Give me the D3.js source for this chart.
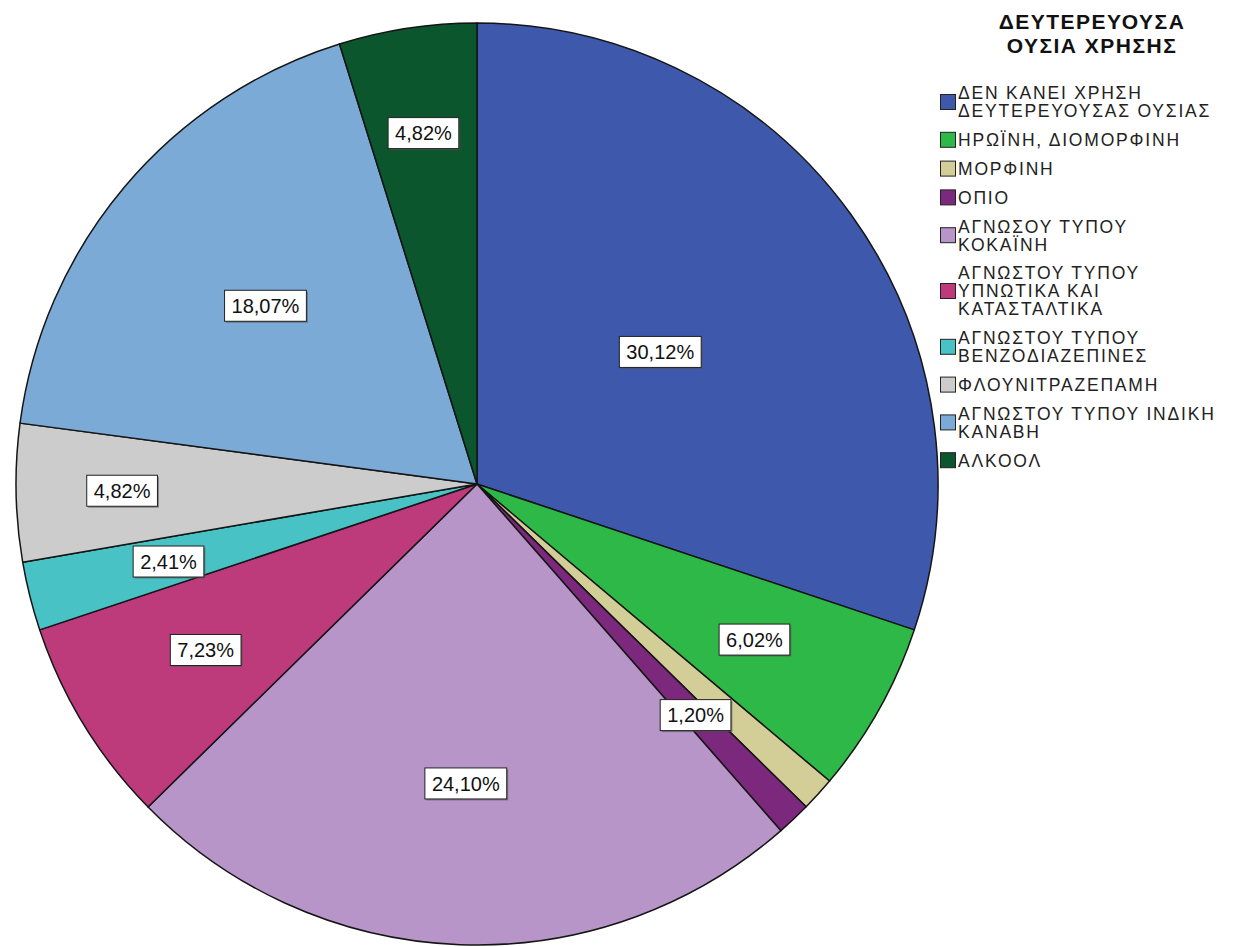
<!DOCTYPE html>
<html>
<head>
<meta charset="utf-8">
<script src="https://cdn.jsdelivr.net/npm/d3@7"></script>
<style>
  html, body { margin: 0; padding: 0; background: #fff; }
  svg { display: block; }
</style>
</head>
<body>
<svg id="chart" width="1239" height="947"></svg>
<script>
// ---- data ----
const categories = [
  ["ΔΕΝ ΚΑΝΕΙ ΧΡΗΣΗ", "ΔΕΥΤΕΡΕΥΟΥΣΑΣ ΟΥΣΙΑΣ"],
  ["ΗΡΩΪΝΗ, ΔΙΟΜΟΡΦΙΝΗ"],
  ["ΜΟΡΦΙΝΗ"],
  ["ΟΠΙΟ"],
  ["ΑΓΝΩΣΟΥ ΤΥΠΟΥ", "ΚΟΚΑΪΝΗ"],
  ["ΑΓΝΩΣΤΟΥ ΤΥΠΟΥ", "ΥΠΝΩΤΙΚΑ ΚΑΙ", "ΚΑΤΑΣΤΑΛΤΙΚΑ"],
  ["ΑΓΝΩΣΤΟΥ ΤΥΠΟΥ", "ΒΕΝΖΟΔΙΑΖΕΠΙΝΕΣ"],
  ["ΦΛΟΥΝΙΤΡΑΖΕΠΑΜΗ"],
  ["ΑΓΝΩΣΤΟΥ ΤΥΠΟΥ ΙΝΔΙΚΗ", "ΚΑΝΑΒΗ"],
  ["ΑΛΚΟΟΛ"]
];
const percents = [30.12, 6.02, 1.20, 1.20, 24.10, 7.23, 2.41, 4.82, 18.07, 4.82];
const colors = ["#3E58AC", "#2EB848", "#D3CE97", "#7C287D", "#B795C8",
                "#BD3B7B", "#48C2C5", "#CCCCCC", "#7AAAD5", "#0B562D"];
const legendTitle = ["ΔΕΥΤΕΡΕΥΟΥΣΑ", "ΟΥΣΙΑ ΧΡΗΣΗΣ"];

// ---- layout ----
const svg = d3.select("#chart");
const cx = 477, cy = 484, R = 461;
const font = "'Liberation Sans', Arial, sans-serif";

const data = percents.map((v, i) => ({ v, i }));
const pie = d3.pie().value(d => d.v).sort(null);
const arcs = pie(data);
const arc = d3.arc().innerRadius(0).outerRadius(R);

const g = svg.append("g").attr("transform", `translate(${cx},${cy})`);
g.selectAll("path.slice").data(arcs).join("path")
  .attr("class", "slice")
  .attr("d", arc)
  .attr("fill", d => colors[d.data.i])
  .attr("stroke", "#151515")
  .attr("stroke-width", 1.5)
  .attr("stroke-linejoin", "round");

// label radius rule (fraction of radius) depending on slice size
function labelFrac(v) {
  if (v > 25) return 0.49;
  if (v > 20) return 0.65;
  if (v > 15) return 0.60;
  if (v > 4 && v < 5) return 0.77;
  return 0.69;
}
const fmt = v => v.toFixed(2).replace(".", ",") + "%";

const labelsG = g.append("g");
const placed = [];
arcs.forEach(a => {
  const mid = (a.startAngle + a.endAngle) / 2;
  const r = R * labelFrac(a.data.v);
  const x = Math.sin(mid) * r, y = -Math.cos(mid) * r;
  const lg = labelsG.append("g").attr("transform", `translate(${x},${y})`);
  const t = lg.append("text")
    .attr("text-anchor", "middle").attr("dy", "0.36em")
    .attr("font-family", font).attr("font-size", 20).attr("fill", "#111")
    .text(fmt(a.data.v));
  const w = t.node().getComputedTextLength() + 14, h = 31;
  lg.insert("rect", "text").attr("x", -w / 2 + 1.5).attr("y", -h / 2 + 1.5)
    .attr("width", w).attr("height", h).attr("fill", "#555").attr("opacity", 0.6);
  lg.insert("rect", "text").attr("x", -w / 2).attr("y", -h / 2)
    .attr("width", w).attr("height", h).attr("fill", "#fff")
    .attr("stroke", "#222").attr("stroke-width", 1);
  const box = { x0: x - w / 2, x1: x + w / 2, y0: y - h / 2, y1: y + h / 2, node: lg };
  placed.forEach(p => {
    if (!p.hidden && p.x0 < box.x1 && box.x0 < p.x1 && p.y0 < box.y1 && box.y0 < p.y1) {
      p.hidden = true; p.node.remove();
    }
  });
  placed.push(box);
});

// ---- legend ----
const lx = 940, textX = 958;
const leg = svg.append("g");
leg.selectAll("text.title").data(legendTitle).join("text")
  .attr("class", "title")
  .attr("x", 1092).attr("y", (d, i) => 29 + i * 24)
  .attr("text-anchor", "middle")
  .attr("font-family", font).attr("font-weight", "bold").attr("font-size", 21)
  .attr("letter-spacing", 1.5)
  .attr("fill", "#111").text(d => d);

const lineH = 18, gap = 10.8;
let yTop = 84;
categories.forEach((lines, i) => {
  const hItem = lines.length * lineH;
  const midY = yTop + hItem / 2;
  leg.append("rect").attr("x", lx + 0.5).attr("y", midY - 7.5)
    .attr("width", 15).attr("height", 15)
    .attr("fill", colors[i]).attr("stroke", "#222").attr("stroke-width", 1);
  lines.forEach((s, j) => {
    leg.append("text").attr("x", textX).attr("y", yTop + j * lineH + lineH / 2)
      .attr("dy", "0.36em")
      .attr("font-family", font).attr("font-size", 17.5).attr("letter-spacing", 1.8)
      .attr("fill", "#222").text(s);
  });
  yTop += hItem + gap;
});
</script>
</body>
</html>
